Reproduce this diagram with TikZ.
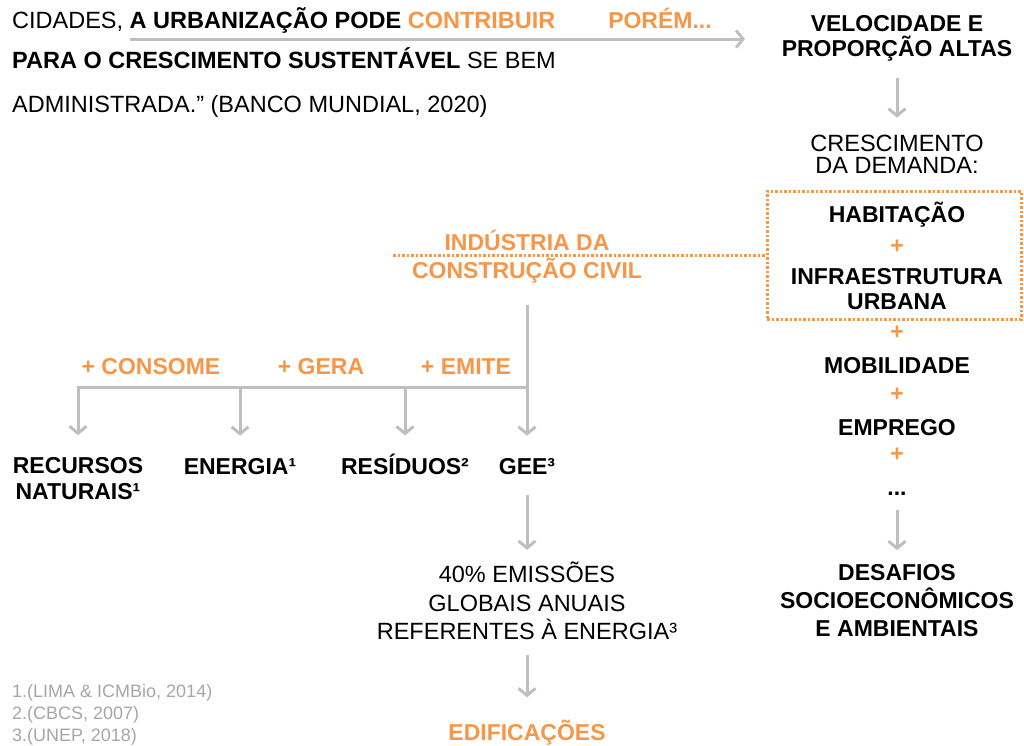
\documentclass[tikz,border=0pt]{standalone}
\usepackage{fontspec}
\setmainfont{Liberation Sans}
\usetikzlibrary{arrows.meta}
\definecolor{orng}{HTML}{F79646}
\definecolor{lgray}{HTML}{BFBFBF}
\definecolor{fgray}{HTML}{A6A6A6}
\tikzset{
  txt/.style = {inner sep = 0, align = center, font = \fontsize{23.5}{25}\selectfont},
  bld/.style = {txt, font = \fontsize{23}{25}\selectfont\bfseries},
  org/.style = {bld, text = orng},
  note/.style = {inner sep = 0, text = fgray, font = \fontsize{18}{22}\selectfont},
  arr/.style = {draw = lgray, line width = 3pt,
    -{Straight Barb[length = 7pt, width = 17pt]}},
  dotline/.style = {draw = orng, line width = 3pt, dash pattern = on 2.5pt off 2pt},
}
\begin{document}
\begin{tikzpicture}[x = 1pt, y = -1pt]
  \useasboundingbox (0, 0) rectangle (1024, 745);
  \def\xr{897}
  \def\xm{527}
  % quote at the top left
  \node[txt, anchor = base west] (q1) at (12, 28)
  {CIDADES, \textbf{A URBANIZAÇÃO PODE \textcolor{orng}{CONTRIBUIR}}};
  \node[txt, anchor = base west] (q2) at (12, 68)
  {\textbf{PARA O CRESCIMENTO SUSTENTÁVEL} SE BEM};
  \node[txt, anchor = base west] (q3) at (12, 112)
  {ADMINISTRADA.” (BANCO MUNDIAL, 2020)};
  \node[org, anchor = base] (por) at (660, 28) {PORÉM...};
  \coordinate (a0) at (130, 39);
  \coordinate (a1) at (745, 39);
  \draw[arr] (a0) -- (a1);
  % right column
  \node[bld] (vel) at (\xr, 38.5) {VELOCIDADE E\\PROPORÇÃO ALTAS};
  \node[txt, font = \fontsize{23.5}{22}\selectfont] (cresc) at (\xr, 154)
  {CRESCIMENTO\\DA DEMANDA:};
  \draw[arr, shorten <= 16pt, shorten >= 17pt] (vel) -- (cresc);
  \node[bld, anchor = base] (hab) at (\xr, 222) {HABITAÇÃO};
  \node[org] (p1) at (\xr, 247) {+};
  \node[bld] (infra) at (\xr, 289) {INFRAESTRUTURA\\URBANA};
  \node[dotline, minimum width = 254, minimum height = 128] (box) at (894, 255) {};
  \node[org] (p2) at (\xr, 333) {+};
  \node[bld, anchor = base] (mob) at (\xr, 373) {MOBILIDADE};
  \node[org] (p3) at (\xr, 395) {+};
  \node[bld, anchor = base] (emp) at (\xr, 435) {EMPREGO};
  \node[org] (p4) at (\xr, 455) {+};
  \node[bld, anchor = base] (etc) at (\xr, 495) {...};
  \node[bld, font = \fontsize{23}{28}\selectfont\bfseries] (des) at (\xr, 600.5)
  {DESAFIOS\\SOCIOECONÔMICOS\\E AMBIENTAIS};
  \draw[arr, shorten <= 15pt, shorten >= 14pt] (etc) -- (des);
  % construction industry and its branches
  \node[org, font = \fontsize{23}{28}\selectfont\bfseries] (ind) at (\xm, 257)
  {INDÚSTRIA DA\\CONSTRUÇÃO CIVIL};
  \coordinate (d0) at (393, 255);
  \draw[dotline] (d0) -- (box.west);
  \node[org, anchor = base] (cons) at (151, 374) {+ CONSOME};
  \node[org, anchor = base] (gera) at (321, 374) {+ GERA};
  \node[org, anchor = base] (emit) at (466, 374) {+ EMITE};
  \node[bld, font = \fontsize{23}{26}\selectfont\bfseries] (rec) at (78, 478.5)
  {RECURSOS\\NATURAIS¹};
  \node[bld, anchor = base] (ene) at (240, 474) {ENERGIA¹};
  \node[bld, anchor = base] (res) at (405, 474) {RESÍDUOS²};
  \node[bld, anchor = base] (gee) at (\xm, 474) {GEE³};
  \coordinate (br) at (\xm, 387);
  \draw[arr, shorten <= 21pt, shorten >= 22pt] (ind) -- (gee);
  \draw[arr, shorten >= 22pt] (br) -| (rec);
  \draw[arr, shorten >= 22pt] (br) -| (ene);
  \draw[arr, shorten >= 18pt] (br) -| (res);
  % emissions and buildings
  \node[txt, font = \fontsize{23.5}{28.5}\selectfont] (emis) at (\xm, 601)
  {40\% EMISSÕES\\GLOBAIS ANUAIS\\REFERENTES À ENERGIA³};
  \draw[arr, shorten <= 21pt, shorten >= 12pt] (gee) -- (emis);
  \node[org, anchor = base] (edif) at (\xm, 740) {EDIFICAÇÕES};
  \draw[arr, shorten <= 15pt, shorten >= 22pt] (emis) -- (edif);
  % references
  \node[note, anchor = base west] (n1) at (12, 697) {1.(LIMA \& ICMBio, 2014)};
  \node[note, anchor = base west] (n2) at (12, 719) {2.(CBCS, 2007)};
  \node[note, anchor = base west] (n3) at (12, 741) {3.(UNEP, 2018)};
\end{tikzpicture}
\end{document}
